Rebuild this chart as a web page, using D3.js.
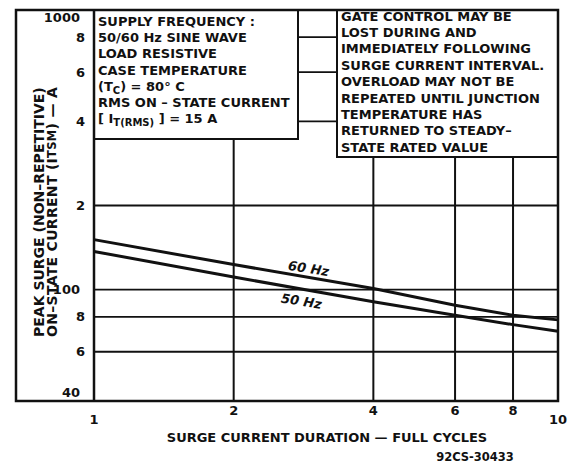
<!DOCTYPE html>
<html>
<head>
<meta charset="utf-8">
<script src="https://cdn.jsdelivr.net/npm/d3@7"></script>
<style>
body { margin: 0; background: #fff; }
text { font-family: "DejaVu Sans", sans-serif; font-weight: bold; fill: #111; }
</style>
</head>
<body>
<svg id="chart" width="577" height="466"></svg>
<script>
// surge current duration (full cycles) vs peak surge current (A)
var cycles = [1, 2, 4, 6, 8, 10];
var surge60 = [151, 123, 101, 88, 81, 78];
var surge50 = [137, 111, 90.5, 81, 75, 71];

var xTicks = [1, 2, 4, 6, 8, 10];
var xTickLabels = ["1", "2", "4", "6", "8", "10"];
var yTicks = [40, 60, 80, 100, 200, 400, 600, 800, 1000];
var yTickLabels = ["40", "6", "8", "100", "2", "4", "6", "8", "1000"];
var xGrid = [2, 4, 6, 8];
var yGrid = [60, 80, 100, 200, 400, 600, 800];

// text lines; [text, "sub"] parts are subscripts
var leftNote = [
    ["SUPPLY FREQUENCY :"],
    ["50/60 Hz SINE WAVE"],
    ["LOAD  RESISTIVE"],
    ["CASE TEMPERATURE"],
    ["(T", ["C", "sub"], ") = 80° C"],
    ["RMS ON \u2013 STATE CURRENT"],
    ["[ I", ["T(RMS)", "sub"], " ] = 15 A"]
];
var rightNote = [
    "GATE CONTROL MAY BE",
    "LOST DURING AND",
    "IMMEDIATELY FOLLOWING",
    "SURGE CURRENT INTERVAL.",
    "OVERLOAD MAY NOT BE",
    "REPEATED UNTIL JUNCTION",
    "TEMPERATURE  HAS",
    "RETURNED TO STEADY\u2013",
    "STATE RATED VALUE"
];

var svg = d3.select("#chart");
var pLeft = 94, pRight = 558, pTop = 10, pBottom = 401;

var x = d3.scaleLog().domain([1, 10]).range([pLeft, pRight]);
var y = d3.scaleLog().domain([40, 1000]).range([pBottom, pTop]);

// grid
svg.append("g").selectAll("line").data(xGrid).enter().append("line")
    .attr("x1", function (d) { return x(d); }).attr("x2", function (d) { return x(d); })
    .attr("y1", pTop).attr("y2", pBottom)
    .attr("stroke", "#111").attr("stroke-width", 2);
svg.append("g").selectAll("line").data(yGrid).enter().append("line")
    .attr("x1", pLeft).attr("x2", pRight)
    .attr("y1", function (d) { return y(d); }).attr("y2", function (d) { return y(d); })
    .attr("stroke", "#111").attr("stroke-width", 1.8);

// curves
var line = d3.line()
    .x(function (d) { return x(d[0]); })
    .y(function (d) { return y(d[1]); });
[surge60, surge50].forEach(function (s) {
    svg.append("path")
        .attr("d", line(d3.zip(cycles, s)))
        .attr("fill", "none").attr("stroke", "#111").attr("stroke-width", 3);
});

svg.append("text").attr("transform", "translate(" + x(2.9) + "," + y(119) + ") rotate(9)")
    .attr("text-anchor", "middle").attr("dominant-baseline", "central")
    .style("font-size", "13px").style("font-style", "italic").text("60 Hz");
svg.append("text").attr("transform", "translate(" + x(2.8) + "," + y(91) + ") rotate(9)")
    .attr("text-anchor", "middle").attr("dominant-baseline", "central")
    .style("font-size", "13px").style("font-style", "italic").text("50 Hz");

// note boxes
svg.append("rect").attr("x", pLeft).attr("y", pTop).attr("width", 204).attr("height", 129)
    .attr("fill", "#fff").attr("stroke", "#111").attr("stroke-width", 2);
svg.append("rect").attr("x", 337).attr("y", pTop).attr("width", pRight - 337).attr("height", 147)
    .attr("fill", "#fff").attr("stroke", "#111").attr("stroke-width", 2);

var lt = svg.append("g").style("font-size", "13px");
leftNote.forEach(function (parts, i) {
    var t = lt.append("text").attr("x", 98).attr("y", 21 + i * 16.2).attr("dominant-baseline", "central");
    var shift = 0;
    parts.forEach(function (p) {
        if (typeof p === "string") {
            t.append("tspan").attr("dy", -shift).text(p);
            shift = 0;
        } else {
            t.append("tspan").attr("dy", 4).style("font-size", "10px").text(p[0]);
            shift = 4;
        }
    });
});
var rt = svg.append("g").style("font-size", "13px");
rightNote.forEach(function (s, i) {
    rt.append("text").attr("x", 341).attr("y", 16 + i * 16.4).attr("dominant-baseline", "central").text(s);
});

// frame
svg.append("rect").attr("x", 16).attr("y", pTop).attr("width", pRight - 16).attr("height", pBottom - pTop)
    .attr("fill", "none").attr("stroke", "#111").attr("stroke-width", 2.5);
svg.append("line").attr("x1", pLeft).attr("x2", pLeft).attr("y1", pTop).attr("y2", pBottom)
    .attr("stroke", "#111").attr("stroke-width", 2.5);

// tick labels
svg.append("g").style("font-size", "13px").selectAll("text").data(yTicks).enter().append("text")
    .attr("x", function (d, i) { return yTickLabels[i].length > 1 ? 80 : 85; })
    .attr("y", function (d) { return Math.min(Math.max(y(d), 17), 392); })
    .attr("text-anchor", "end").attr("dominant-baseline", "central")
    .text(function (d, i) { return yTickLabels[i]; });
svg.append("g").style("font-size", "13px").selectAll("text").data(xTicks).enter().append("text")
    .attr("x", function (d) { return x(d); })
    .attr("y", function (d) { return (d === 1 || d === 10) ? 419 : 410; })
    .attr("text-anchor", "middle").attr("dominant-baseline", "central")
    .text(function (d, i) { return xTickLabels[i]; });

// axis titles
var yt = svg.append("g").attr("transform", "translate(39,337) rotate(-90)").style("font-size", "14px");
yt.append("text").attr("dominant-baseline", "central").text("PEAK SURGE (NON\u2013REPETITIVE)");
var l2 = yt.append("text").attr("y", 13).attr("dominant-baseline", "central").style("letter-spacing", "0.3px");
l2.append("tspan").text("ON\u2013STATE CURRENT (I");
l2.append("tspan").style("font-size", "11.5px").text("TSM");
l2.append("tspan").text(") \u2014 A");

svg.append("text").attr("x", 327).attr("y", 437).attr("text-anchor", "middle")
    .attr("dominant-baseline", "central").style("font-size", "13px")
    .text("SURGE CURRENT DURATION \u2014 FULL CYCLES");
svg.append("text").attr("x", 475).attr("y", 457).attr("text-anchor", "middle")
    .attr("dominant-baseline", "central").style("font-size", "11.5px")
    .text("92CS-30433");
</script>
</body>
</html>
